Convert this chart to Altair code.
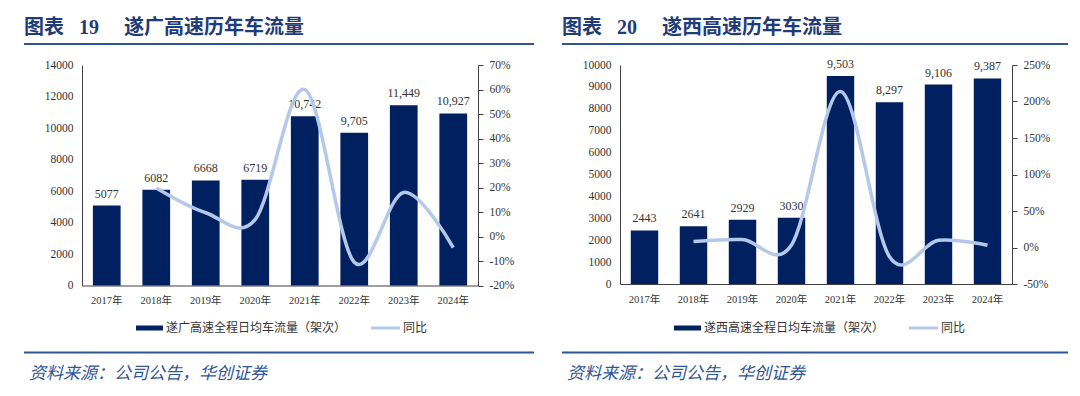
import altair as alt
import pandas as pd

years = ["2017年", "2018年", "2019年", "2020年", "2021年", "2022年", "2023年", "2024年"]

# Panel 1: 遂广高速
flow_1 = [5077, 6082, 6668, 6719, 10742, 9705, 11449, 10927]
label_1 = ["5077", "6082", "6668", "6719", "10,742", "9,705", "11,449", "10,927"]
yoy_1 = [None, 19.8, 9.7, 7.0, 60.0, -10.5, 18.0, -4.5]

# Panel 2: 遂西高速
flow_2 = [2443, 2641, 2929, 3030, 9503, 8297, 9106, 9387]
label_2 = ["2443", "2641", "2929", "3030", "9,503", "8,297", "9,106", "9,387"]
yoy_2 = [None, 8.1, 10.9, 3.4, 213.6, -12.7, 9.8, 3.1]

title_1 = "图表\u00a0\u00a0\u00a019\u00a0\u3000遂广高速历年车流量"
title_2 = "图表\u00a0\u00a0\u00a020\u00a0\u3000遂西高速历年车流量"
bar_name_1 = "遂广高速全程日均车流量（架次）"
bar_name_2 = "遂西高速全程日均车流量（架次）"
line_name = "同比"
source_text = "资料来源：公司公告，华创证券"

BAR = "#002060"
LINE = "#B4C8EA"
BLUE = "#2F5597"
TITLE = "#1F3B78"
TXT = "#333333"
SERIF = "Liberation Serif, Noto Sans CJK SC"
CJK = "Noto Sans CJK SC"


def panel(title, flows, labels, yoy, bar_name, ymax, ystep, pmin, pmax, pstep, w, h):
    df = pd.DataFrame({"year": years, "flow": flows, "label": labels, "yoy": yoy})
    base = alt.Chart(df)
    xaxis = alt.Axis(title=None, labelAngle=0, tickSize=0, labelPadding=10,
                     domainColor="#404040", labelFont=SERIF, labelFontSize=10.5,
                     labelColor=TXT, labelOverlap=False)
    xscale = alt.Scale(paddingInner=0.44, paddingOuter=0.22)
    yscale = alt.Scale(domain=[0, ymax], nice=False)
    yaxis = alt.Axis(title=None, values=list(range(0, ymax + 1, ystep)),
                     format="d", tickSize=0, labelPadding=9, grid=False,
                     domainColor="#404040", labelFont=SERIF,
                     labelFontSize=11.5, labelColor=TXT, labelOverlap=False)
    bars = base.mark_bar(color=BAR).encode(
        x=alt.X("year:N", sort=years, scale=xscale, axis=xaxis),
        y=alt.Y("flow:Q", scale=yscale, axis=yaxis),
    )
    texts = base.mark_text(baseline="bottom", dy=-5, font=SERIF, fontSize=12,
                           color=TXT).encode(
        x=alt.X("year:N", sort=years, scale=xscale, axis=xaxis),
        y=alt.Y("flow:Q", scale=yscale, axis=yaxis),
        text="label:N",
    )
    line = base.transform_filter("datum.yoy != null").mark_line(
        interpolate="cardinal", color=LINE, strokeWidth=3.5
    ).encode(
        x=alt.X("year:N", sort=years, scale=xscale, axis=xaxis),
        y=alt.Y("yoy:Q", scale=alt.Scale(domain=[pmin, pmax], nice=False),
                axis=alt.Axis(orient="right", title=None,
                              values=list(range(pmin, pmax + 1, pstep)),
                              labelExpr="datum.value + '%'", tickSize=5,
                              tickColor="#404040", labelPadding=6, grid=False,
                              domainColor="#404040", labelFont=SERIF,
                              labelFontSize=11.5, labelColor=TXT,
                              labelOverlap=False)),
    )
    one = pd.DataFrame({"t": [title]})
    ttl = alt.Chart(one).mark_text(align="left", baseline="middle", font=SERIF,
                                   fontSize=20, fontWeight="bold", color=TITLE).encode(
        text="t:N", x=alt.value(-58), y=alt.value(-37))
    uline = alt.Chart(one).mark_rule(color=BLUE, strokeWidth=2.2).encode(
        x=alt.value(-58), x2=alt.value(w + 56), y=alt.value(-21))
    leg_df = pd.DataFrame({"t": [bar_name]})
    leg_bar = alt.Chart(leg_df).mark_rect(color=BAR).encode(
        x=alt.value(54), x2=alt.value(81), y=alt.value(260.5), y2=alt.value(265.5))
    leg_bar_t = alt.Chart(leg_df).mark_text(align="left", baseline="middle", font=CJK,
                                            fontSize=12, color=TXT).encode(
        text="t:N", x=alt.value(84), y=alt.value(263))
    leg2_df = pd.DataFrame({"t": [line_name]})
    leg_line = alt.Chart(leg2_df).mark_rule(color=LINE, strokeWidth=3).encode(
        x=alt.value(289), x2=alt.value(318), y=alt.value(263))
    leg_line_t = alt.Chart(leg2_df).mark_text(align="left", baseline="middle", font=CJK,
                                              fontSize=12, color=TXT).encode(
        text="t:N", x=alt.value(321), y=alt.value(263))
    frule = alt.Chart(one).mark_rule(color=BLUE, strokeWidth=2.2).encode(
        x=alt.value(-58), x2=alt.value(w + 56), y=alt.value(287.5))
    src_df = pd.DataFrame({"t": [source_text]})
    src = alt.Chart(src_df).mark_text(align="left", baseline="middle", font=CJK,
                                      fontSize=17, fontStyle="italic", color=BLUE).encode(
        text="t:N", x=alt.value(-53), y=alt.value(308.5))
    main = alt.layer(alt.layer(bars, texts), line).resolve_scale(y="independent")
    return alt.layer(main, ttl, uline, leg_bar, leg_bar_t, leg_line, leg_line_t,
                     frule, src).properties(width=w, height=h)


p1 = panel(title_1, flow_1, label_1, yoy_1, bar_name_1, 14000, 2000, -20, 70, 10, 396, 220.5)
p2 = panel(title_2, flow_2, label_2, yoy_2, bar_name_2, 10000, 1000, -50, 250, 50, 392, 219)

chart = alt.hconcat(p1, p2, spacing=24).configure_view(stroke=None).properties(
    padding={"left": 14, "top": 10, "right": 2, "bottom": 4}
)

chart.save("out.html", embed_options={"renderer": "svg", "actions": False})
